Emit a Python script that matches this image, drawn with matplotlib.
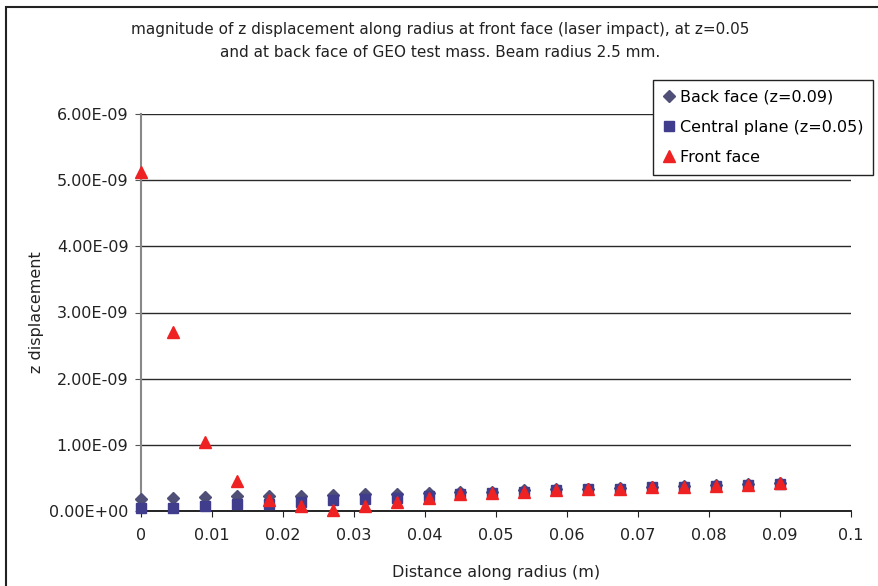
import numpy as np
import matplotlib
matplotlib.use("Agg")
from matplotlib import pyplot as plt
from matplotlib.patches import Rectangle
from matplotlib.ticker import FuncFormatter

plt.rcParams['font.family'] = ['DejaVu Sans']

# distance along radius (m)
radius = [0.0, 0.0045, 0.009, 0.0135, 0.018, 0.0225, 0.027, 0.0315, 0.036, 0.0405,
          0.045, 0.0495, 0.054, 0.0585, 0.063, 0.0675, 0.072, 0.0765, 0.081, 0.0855, 0.09]
# z displacement, in units of 1e-9
back_face = [0.18, 0.20, 0.21, 0.22, 0.23, 0.23, 0.24, 0.25, 0.26, 0.27, 0.28,
             0.29, 0.31, 0.33, 0.34, 0.35, 0.37, 0.38, 0.39, 0.41, 0.43]
central_plane = [0.05, 0.05, 0.08, 0.10, 0.10, 0.13, 0.16, 0.18, 0.20, 0.22, 0.25,
                 0.27, 0.29, 0.31, 0.33, 0.34, 0.36, 0.37, 0.38, 0.40, 0.41]
front_face = [5.13, 2.70, 1.05, 0.45, 0.17, 0.07, 0.01, 0.07, 0.14, 0.20, 0.25,
              0.27, 0.29, 0.31, 0.33, 0.34, 0.36, 0.37, 0.38, 0.40, 0.42]

labels = ['Back face (z=0.09)', 'Central plane (z=0.05)', 'Front face']
title = ('magnitude of z displacement along radius at front face (laser impact), at z=0.05\n'
         'and at back face of GEO test mass. Beam radius 2.5 mm.')

x = np.array(radius)
y_back = np.array(back_face) * 1e-9
y_cent = np.array(central_plane) * 1e-9
y_front = np.array(front_face) * 1e-9

fig = plt.figure(figsize=(8.79, 5.86), dpi=100)
fig.patches.append(Rectangle((6/879, -0.05), 1.1, 1 - 7/586 + 0.05, transform=fig.transFigure,
                             fill=False, edgecolor='#222222', linewidth=1.5))
ax = fig.add_axes([141/879, 75/586, 710/879, 397/586])

ax.plot(x, y_back, 'D', color='#4f4f78', markersize=6, label=labels[0], zorder=3, clip_on=False)
ax.plot(x, y_cent, 's', color='#3f3d8c', markersize=7.5, label=labels[1], zorder=4, clip_on=False)
ax.plot(x, y_front, '^', color='#ee2222', markersize=8.5, label=labels[2], zorder=5, clip_on=False)

ax.set_xlim(0, 0.1)
ax.set_ylim(0, 6e-9)
ax.set_xticks(np.arange(0, 0.1001, 0.01))
ax.set_xticklabels(['0', '0.01', '0.02', '0.03', '0.04', '0.05', '0.06', '0.07', '0.08', '0.09', '0.1'])
ax.set_yticks(np.arange(0, 6.01e-9, 1e-9))
ax.yaxis.set_major_formatter(FuncFormatter(lambda v, p: f'{v:.2E}'))
ax.tick_params(axis='both', labelsize=11.5, colors='#222222', length=4)
ax.tick_params(axis='y', color='#555555', pad=5)
ax.tick_params(axis='x', pad=8)

for v in np.arange(1e-9, 6.01e-9, 1e-9):
    ax.axhline(v, color='#2a2a2a', linewidth=1.0, zorder=1)

for s in ['top', 'right']:
    ax.spines[s].set_visible(False)
ax.spines['left'].set_color('#888888')
ax.spines['left'].set_linewidth(1.5)
ax.spines['bottom'].set_color('#111111')
ax.spines['bottom'].set_linewidth(1.3)

ax.set_xlabel('Distance along radius (m)', fontsize=11.5, color='#222222', labelpad=16)
ax.set_ylabel('z displacement', fontsize=11.5, color='#222222', labelpad=4)
fig.text(440/879, 1 - 41/586, title, ha='center', va='center', fontsize=11,
         color='#222222', linespacing=1.6)

leg = ax.legend(loc='upper right', bbox_to_anchor=(873/879, 1 - 80/586),
                bbox_transform=fig.transFigure, fontsize=11.5, frameon=True,
                fancybox=False, framealpha=1, edgecolor='#222222',
                handletextpad=0.3, handlelength=0.8, borderpad=0.6,
                borderaxespad=0, labelspacing=0.95)
leg.get_frame().set_linewidth(1.0)

fig.savefig('out.png', dpi=100)
